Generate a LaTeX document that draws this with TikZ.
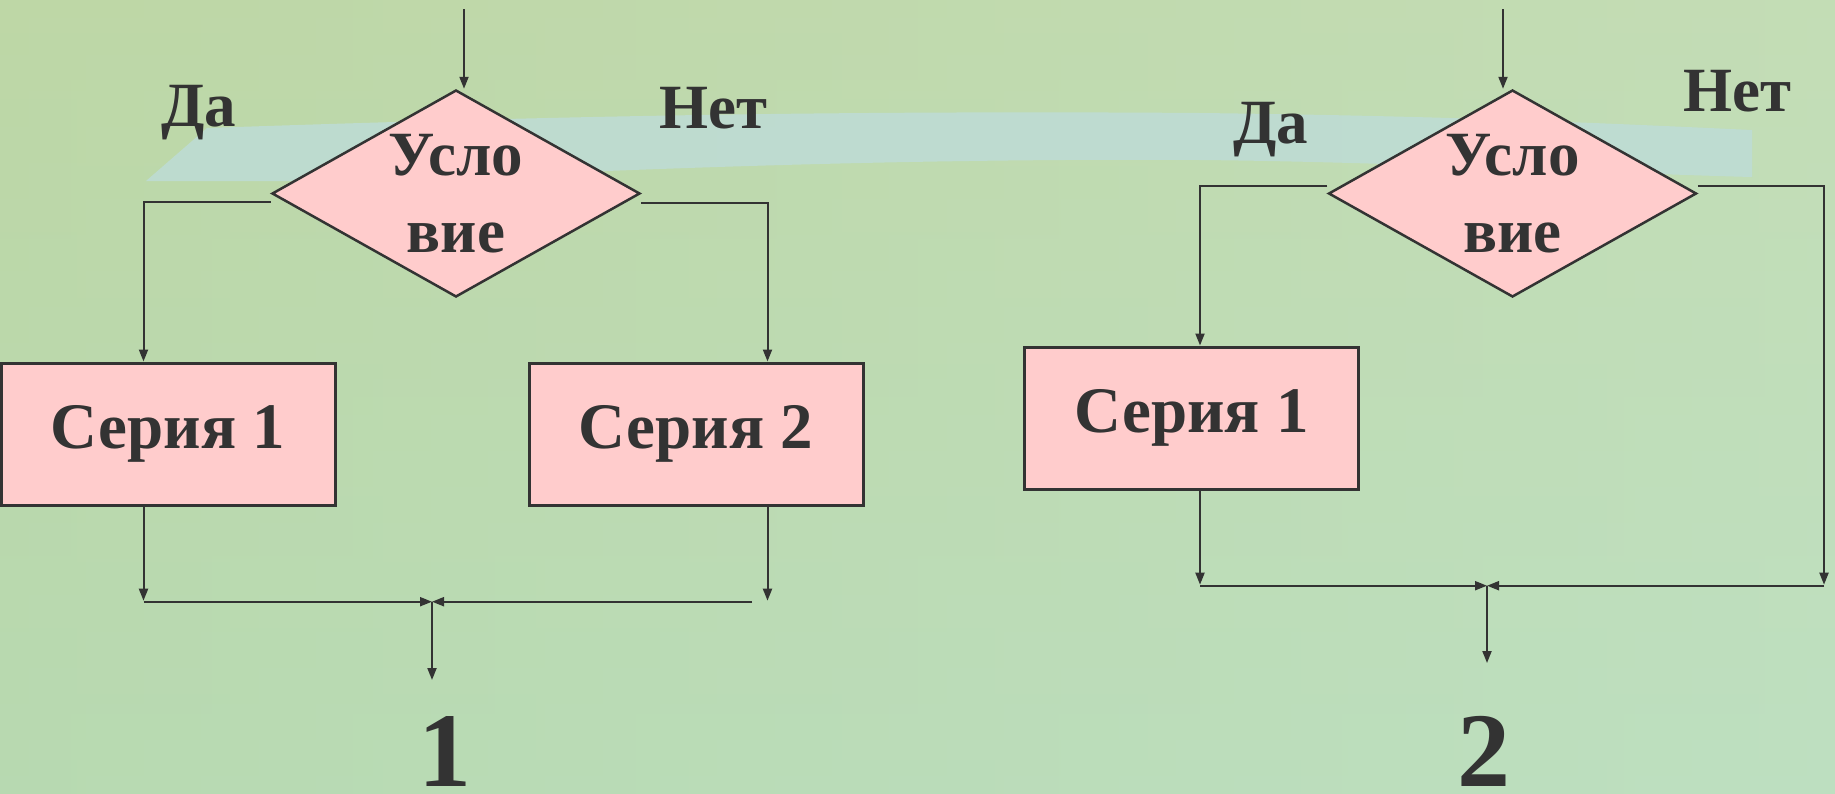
\documentclass[tikz,border=0pt]{standalone}
\usepackage{fontspec}
\setmainfont{Liberation Serif}
\usetikzlibrary{shapes.geometric,arrows.meta,calc}
\definecolor{ink}{RGB}{51,51,51}
\definecolor{pinkfill}{RGB}{255,204,204}
\definecolor{bgA}{RGB}{190,215,166}
\definecolor{bgB}{RGB}{178,220,188}
\definecolor{bgC}{RGB}{202,228,198}
\definecolor{band}{RGB}{190,220,214}
\tikzset{
  conn/.style={draw=ink, line width=2pt},
  arr/.style={conn, -{Triangle[length=12pt,width=9pt]}},
  boxnode/.style={rectangle, draw=ink, line width=3pt, fill=pinkfill, text=ink,
    minimum width=334pt, minimum height=142pt, inner sep=0pt,
    font=\bfseries\fontsize{65}{78}\selectfont},
  cond/.style={diamond, draw=ink, line width=2.5pt, fill=pinkfill, text=ink,
    aspect=1.77, minimum width=368pt, minimum height=207pt, inner sep=0pt,
    align=center, font=\bfseries\fontsize{63}{77}\selectfont},
  lbl/.style={text=ink, inner sep=0pt, anchor=base, font=\bfseries\fontsize{63}{70}\selectfont},
  num/.style={text=ink, inner sep=0pt, anchor=base, font=\bfseries\fontsize{106}{110}\selectfont}
}
\begin{document}
\begin{tikzpicture}[x=1pt,y=-1pt]
\useasboundingbox (0,0) rectangle (1835,793);
% background
\shade[left color=bgA, right color=bgC] (0,0) rectangle (1835,793);
\shade[top color=bgA, bottom color=bgB, opacity=0.5] (0,0) rectangle (1835,793);
\fill[band, opacity=0.85] (146,181) -- (207,128) .. controls (500,118) and (800,110) .. (1200,113)
  .. controls (1450,116) and (1600,123) .. (1752,130) -- (1752,177)
  .. controls (1600,173) and (1400,162) .. (1200,160) .. controls (900,158) and (600,170) .. (390,181) -- cycle;

% ---------- diagram 1 ----------
\node[cond] (d1) at (456,193.5) {Усло\\вие};
\node[boxnode] (s11) at (168,434) {Серия 1};
\node[boxnode] (s12) at (696,434) {Серия 2};
\node[lbl] (da1) at (199,126.7) {Да};
\node[lbl] (net1) at (713,128) {Нет};
\node[num] (n1) at (445,786) {1};
\coordinate (a1) at (464,9);
\coordinate (l1) at (143.5,201.7);
\coordinate (r1) at (767.5,202.7);
\coordinate (m1) at (432,601.7);
\coordinate (e1) at (752,601.7);
\coordinate (o1) at (432,680);
\draw[arr] (a1) -- (a1 |- d1.north);
\draw[arr] (d1.west |- l1) -- (l1) -- (l1 |- s11.north);
\draw[arr] (d1.east |- r1) -- (r1) -- (r1 |- s12.north);
\draw[arr] (l1 |- s11.south) -- ($(l1 |- m1)+(0,-1)$);
\draw[arr] (r1 |- s12.south) -- ($(r1 |- m1)+(0,-1)$);
\draw[arr] (l1 |- m1) -- (m1);
\draw[arr] (e1) -- (m1);
\draw[arr] (m1) -- (o1);

% ---------- diagram 2 ----------
\node[cond] (d2) at (1512.5,193.5) {Усло\\вие};
\node[boxnode] (s21) at (1191.5,418) {Серия 1};
\node[lbl] (da2) at (1271,143.3) {Да};
\node[lbl] (net2) at (1737,111.7) {Нет};
\node[num] (n2) at (1484,786) {2};
\coordinate (a2) at (1503,9);
\coordinate (l2) at (1200,185.7);
\coordinate (r2) at (1824,185.7);
\coordinate (m2) at (1487,585.7);
\coordinate (o2) at (1487,663);
\draw[arr] (a2) -- (a2 |- d2.north);
\draw[arr] (d2.west |- l2) -- (l2) -- (l2 |- s21.north);
\draw[arr] (l2 |- s21.south) -- ($(l2 |- m2)+(0,-1)$);
\draw[arr] (d2.east |- r2) -- (r2) -- ($(r2 |- m2)+(0,-1)$);
\draw[arr] (l2 |- m2) -- (m2);
\draw[arr] (r2 |- m2) -- (m2);
\draw[arr] (m2) -- (o2);
\end{tikzpicture}
\end{document}
